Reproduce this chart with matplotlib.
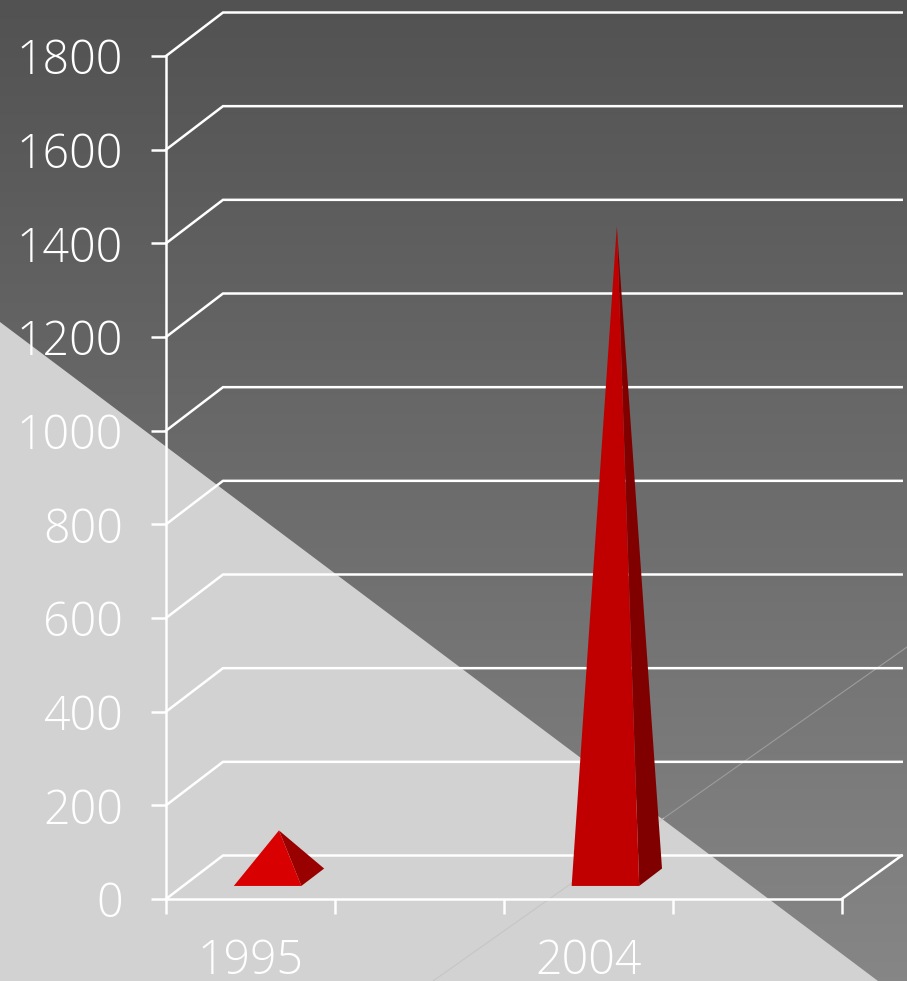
import numpy as np
import matplotlib
matplotlib.use("Agg")
import matplotlib.pyplot as plt
from matplotlib.patches import Polygon

# Chart data
categories = ["1995", "", "2004", ""]
values = [100, 0, 1390, 0]
y_ticks = [0, 200, 400, 600, 800, 1000, 1200, 1400, 1600, 1800]

# Per-bar face colours (front, side)
front_colors = ["#d80000", None, "#c00000", None]
side_colors = ["#990000", None, "#800000", None]

W, H = 907, 981
plt.rcParams["font.family"] = ["Open Sans", "DejaVu Sans"]
fig = plt.figure(figsize=(W / 100, H / 100), dpi=100)

# Full-figure backdrop in pixel coordinates
bg = fig.add_axes([0, 0, 1, 1], zorder=0)
bg.set_xlim(0, W)
bg.set_ylim(H, 0)
bg.axis("off")
ramp = np.linspace(0, 1, 256).reshape(-1, 1)
bg.imshow(ramp, extent=[0, W, H, 0], aspect="auto",
          cmap=matplotlib.colors.LinearSegmentedColormap.from_list("ramp", ["#525252", "#868686"]))
bg.plot([664, 907], [818, 647], color="#9c9c9c", lw=0.8, solid_capstyle="butt")
bg.add_patch(Polygon([(0, 322), (878, 981), (0, 981)], closed=True, fc="#d2d2d2", ec="none"))
bg.plot([433, 664], [981, 818], color="#c6c6c6", lw=0.8, solid_capstyle="butt")

# Plot axes: the front plane of the 3-D box
left, right, bottom_px, top_px = 166, 841.7, 899, 56
ax = fig.add_axes([left / W, 1 - bottom_px / H, (right - left) / W, (bottom_px - top_px) / H], zorder=1)
ax.patch.set_visible(False)
ax.set_xlim(0, 4)
ax.set_ylim(0, 1800)

# Depth of the box expressed in data units
slot_px = (right - left) / 4
unit_px = (bottom_px - top_px) / 1800
depth_x = 57 / slot_px
depth_y = 43.5 / unit_px
depth_x_right = 60 / slot_px


def project(x, y, d):
    return x + depth_x * d, y + depth_y * d


line_kw = dict(color="white", lw=1.8, solid_joinstyle="miter", clip_on=False, zorder=2)

# Wall and floor gridlines
for t in y_ticks:
    ax.plot([0, depth_x, 4 + depth_x_right], [t, t + depth_y, t + depth_y], **line_kw)
ax.plot([4, 4 + depth_x_right], [0, depth_y], **line_kw)

# Pyramids
half = 0.2
for i, v in enumerate(values):
    if v <= 0:
        continue
    c = i + 0.5
    fl = project(c - half, 0, 0.3)
    fr = project(c + half, 0, 0.3)
    br = project(c + half, 0, 0.7)
    apex = project(c, v, 0.5)
    ax.add_patch(Polygon([fr, br, apex], closed=True, fc=side_colors[i], ec="none", clip_on=False, zorder=3))
    ax.add_patch(Polygon([fl, fr, apex], closed=True, fc=front_colors[i], ec="none", clip_on=False, zorder=4))

# Axes, ticks and labels
for s in ["top", "right"]:
    ax.spines[s].set_visible(False)
for s in ["left", "bottom"]:
    ax.spines[s].set_color("white")
    ax.spines[s].set_linewidth(1.8)
ax.set_yticks(y_ticks)
ax.set_yticklabels([str(t) for t in y_ticks])
ax.set_xticks(range(5))
ax.set_xticklabels([])
ax.set_xticks(np.arange(len(categories)) + 0.5, minor=True)
ax.set_xticklabels(categories, minor=True)
ax.tick_params(axis="y", length=10.8, width=1.8, color="white", labelcolor="white",
               labelsize=33.5, pad=20)
ax.tick_params(axis="x", which="major", length=10.5, width=1.8, color="white")
ax.tick_params(axis="x", which="minor", length=0, labelcolor="white", labelsize=33.5, pad=28)
for lab in ax.get_yticklabels() + ax.get_xticklabels(minor=True):
    lab.set_fontweight("light")

fig.savefig("out.png", dpi=100)
